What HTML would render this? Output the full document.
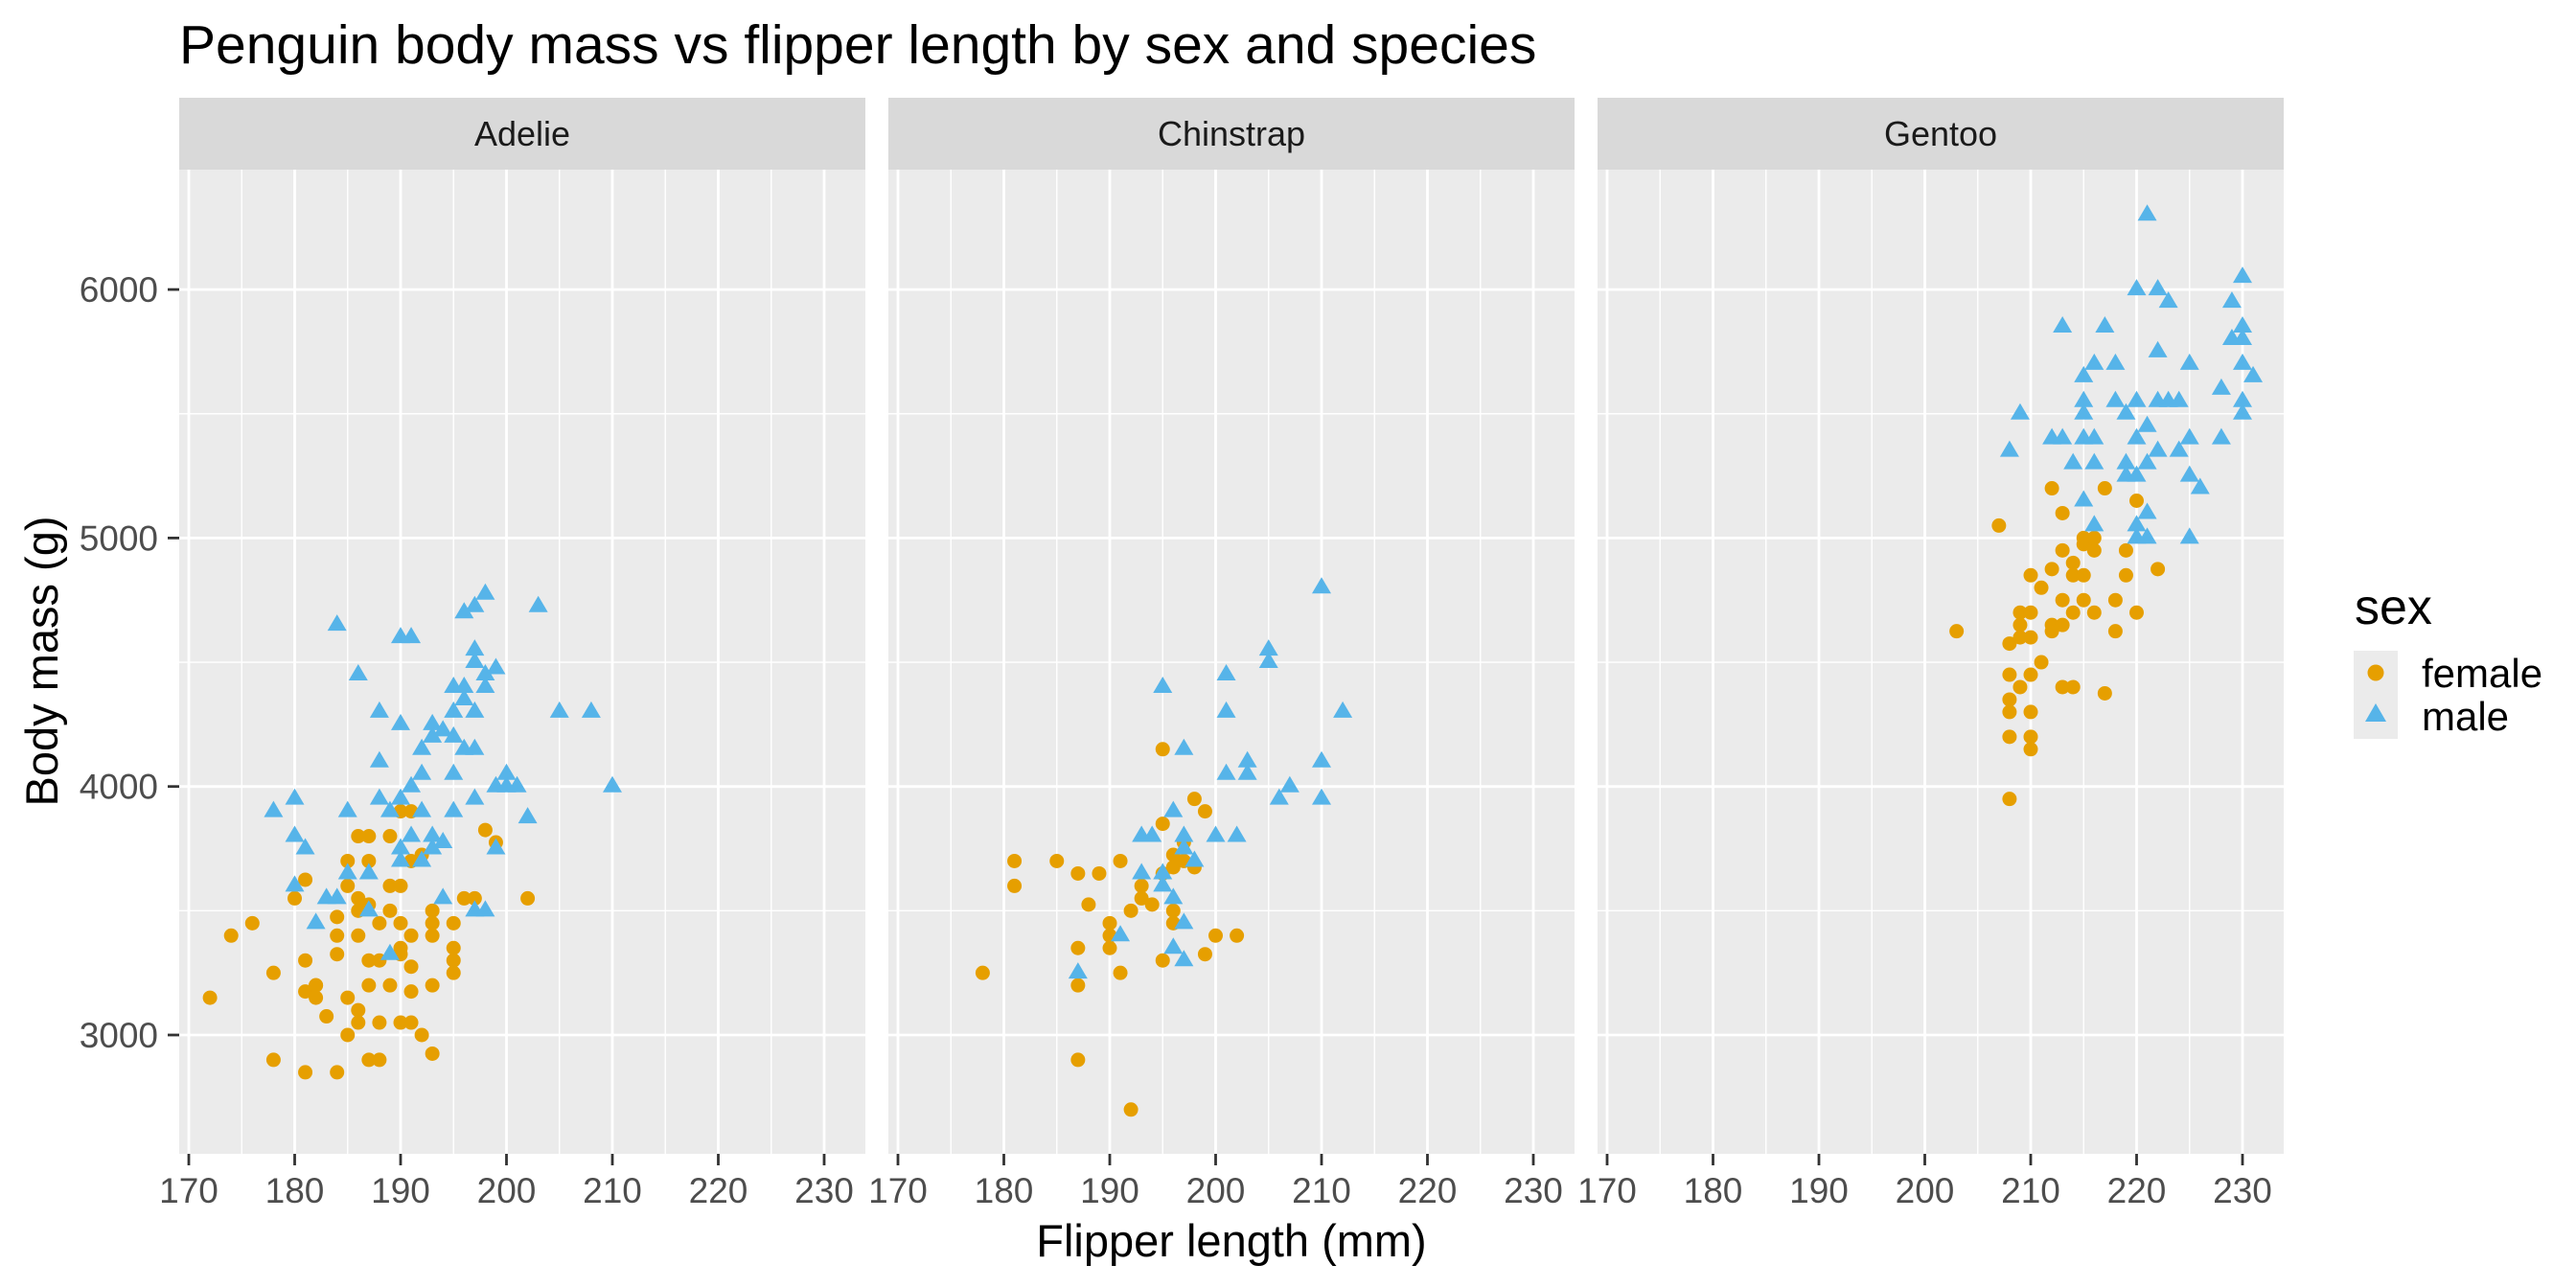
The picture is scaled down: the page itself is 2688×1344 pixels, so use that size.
<!DOCTYPE html>
<html><head><meta charset="utf-8"><style>
html,body{margin:0;padding:0;background:#fff;}
svg{display:block;font-family:"Liberation Sans",Arial,sans-serif;}
</style></head><body>
<svg id="s" width="2688" height="1344" xmlns="http://www.w3.org/2000/svg">
<rect width="2688" height="1344" fill="#fff"/>
<text x="187" y="66" font-size="57" fill="#000">Penguin body mass vs flipper length by sex and species</text>
<text x="1285" y="1311" font-size="47" text-anchor="middle" fill="#000">Flipper length (mm)</text>
<text transform="translate(60,690) rotate(-90)" font-size="47" text-anchor="middle" fill="#000">Body mass (g)</text>
<text x="2457" y="651" font-size="52" fill="#000">sex</text>
<rect x="2456" y="679" width="46" height="92" fill="#EBEBEB"/>
<circle cx="2479" cy="702" r="8.5" fill="#E69F00"/>
<polygon points="2468,753 2490,753 2479,734" fill="#56B4E9"/>
<text x="2527" y="717" font-size="42" fill="#000">female</text>
<text x="2527" y="762" font-size="42" fill="#000">male</text>
<g id="g"></g>
</svg>
<script>
(function(){
const NS="http://www.w3.org/2000/svg";
const g=document.getElementById('g');
function el(t,a,txt){const e=document.createElementNS(NS,t);for(const k in a)e.setAttribute(k,a[k]);if(txt)e.textContent=txt;g.appendChild(e);return e;}
const panels=[187,927,1667], W=716, pTop=177, pBot=1204;
const sx=(p,v)=>p+10+(v-170)*11.05;
const sy=v=>1080-(v-3000)*0.2593;
const names=["Adelie","Chinstrap","Gentoo"];
const data=[
 {f:[[172,3150],[174,3400],[176,3450],[178,3250],[178,2900],[180,3550],[181,3625],[181,3300],[181,3175],[182,3200],[182,3150],[181,2850],[183,3075],[184,3475],[184,3325],[184,2850],[185,3700],[185,3600],[185,3150],[185,3000],[186,3800],[186,3550],[186,3500],[186,3100],[186,3050],[187,3800],[187,3700],[187,3525],[187,3300],[187,3200],[187,2900],[188,3450],[188,3300],[188,3050],[188,2900],[189,3800],[189,3600],[189,3200],[189,3500],[190,3450],[190,3350],[190,3050],[190,3600],[190,3325],[191,3700],[191,3175],[191,3050],[191,3275],[191,3400],[192,3725],[192,3000],[193,3500],[193,3450],[193,3400],[193,3200],[193,2925],[195,3350],[195,3300],[195,3250],[195,3450],[196,3550],[197,3550],[198,3825],[199,3775],[202,3550],[190,3900],[191,3900],[186,3400],[184,3400],[182,3200]],
  m:[[180,3950],[178,3900],[180,3800],[181,3750],[180,3600],[183,3550],[184,3550],[182,3450],[184,4650],[186,4450],[185,3900],[185,3650],[187,3500],[187,3650],[188,4300],[188,4100],[188,3950],[189,3900],[189,3325],[190,4600],[191,4600],[190,4250],[190,3950],[190,3750],[190,3700],[191,4000],[191,3800],[192,4150],[192,4050],[192,3900],[193,4250],[193,4200],[193,3800],[193,3750],[194,4225],[194,3775],[194,3550],[195,4400],[195,4300],[195,4200],[195,4050],[195,3900],[196,4700],[196,4400],[196,4350],[196,4150],[197,4725],[197,4550],[197,4500],[197,4300],[197,4150],[197,3950],[197,3500],[198,4775],[198,4450],[198,4400],[198,3500],[199,4475],[199,4000],[199,3750],[200,4050],[200,4000],[201,4000],[202,3875],[203,4725],[205,4300],[208,4300],[210,4000],[192,3700]]},
 {f:[[178,3250],[181,3700],[181,3600],[185,3700],[187,3650],[187,3350],[187,3200],[187,2900],[188,3525],[189,3650],[190,3450],[190,3400],[190,3350],[191,3700],[191,3250],[192,3500],[192,2700],[193,3600],[193,3550],[194,3525],[195,4150],[195,3850],[195,3650],[195,3300],[196,3725],[196,3675],[196,3500],[197,3775],[197,3700],[198,3950],[198,3675],[199,3900],[199,3325],[200,3400],[202,3400],[196,3450]],
  m:[[187,3250],[191,3400],[193,3800],[193,3650],[194,3800],[195,4400],[195,3650],[195,3600],[196,3900],[197,3800],[197,3750],[197,4150],[197,3450],[197,3300],[198,3700],[200,3800],[201,4450],[201,4300],[201,4050],[202,3800],[203,4100],[203,4050],[205,4550],[205,4500],[206,3950],[207,4000],[210,4800],[210,4100],[210,3950],[212,4300],[196,3550],[196,3350]]},
 {f:[[203,4625],[207,5050],[208,4575],[208,4450],[208,4350],[208,4300],[208,4200],[208,3950],[209,4700],[209,4650],[209,4400],[209,4600],[210,4850],[210,4700],[210,4600],[210,4450],[210,4300],[210,4200],[210,4150],[211,4800],[211,4500],[212,5200],[212,4875],[212,4650],[213,5100],[213,4950],[213,4750],[213,4650],[213,4400],[214,4900],[214,4850],[214,4700],[214,4400],[215,5000],[215,4850],[215,4750],[215,4975],[216,4950],[216,4700],[216,5000],[217,5200],[217,4375],[218,4750],[218,4625],[219,4850],[219,4950],[220,5150],[220,4700],[222,4875],[212,4625]],
  m:[[208,5350],[209,5500],[212,5400],[213,5850],[213,5400],[214,5300],[215,5650],[215,5550],[215,5500],[215,5400],[215,5150],[216,5700],[216,5400],[216,5300],[217,5850],[218,5700],[218,5550],[219,5500],[219,5250],[219,5300],[220,6000],[220,5550],[220,5400],[220,5250],[220,5050],[220,5000],[221,6300],[221,5450],[221,5300],[221,5100],[221,5000],[222,6000],[222,5750],[222,5550],[222,5350],[223,5950],[223,5550],[224,5550],[224,5350],[225,5700],[225,5400],[225,5250],[225,5000],[226,5200],[228,5600],[228,5400],[229,5950],[229,5800],[230,6050],[230,5850],[230,5800],[230,5700],[230,5550],[230,5500],[231,5650],[216,5050]]}
];
panels.forEach((p,i)=>{
  el('rect',{x:p,y:102,width:W,height:75,fill:'#D9D9D9'});
  el('text',{x:p+W/2,y:152,'font-size':36,'text-anchor':'middle',fill:'#1A1A1A'},names[i]);
  el('rect',{x:p,y:pTop,width:W,height:pBot-pTop,fill:'#EBEBEB'});
  for(let v=175;v<=235;v+=10){const x=sx(p,v);if(x<p+W)el('line',{x1:x,x2:x,y1:pTop,y2:pBot,stroke:'#fff','stroke-width':1.4});}
  for(let v=3500;v<=6000;v+=1000){el('line',{x1:p,x2:p+W,y1:sy(v),y2:sy(v),stroke:'#fff','stroke-width':1.4});}
  for(let v=3000;v<=6000;v+=1000){el('line',{x1:p,x2:p+W,y1:sy(v),y2:sy(v),stroke:'#fff','stroke-width':2.8});}
  for(let v=170;v<=230;v+=10){const x=sx(p,v);
    el('line',{x1:x,x2:x,y1:pTop,y2:pBot,stroke:'#fff','stroke-width':2.8});
    el('line',{x1:x,x2:x,y1:pBot,y2:pBot+12,stroke:'#333','stroke-width':2.8});
    el('text',{x:x,y:1255,'font-size':37,'text-anchor':'middle',fill:'#4D4D4D'},String(v));}
  data[i].f.forEach(d=>el('circle',{cx:sx(p,d[0]),cy:sy(d[1]),r:7.5,fill:'#E69F00'}));
  data[i].m.forEach(d=>{const x=sx(p,d[0]),y=sy(d[1]);el('polygon',{points:`${x-10},${y+6} ${x+10},${y+6} ${x},${y-11}`,fill:'#56B4E9'});});
});
for(let v=3000;v<=6000;v+=1000){const y=sy(v);
  el('line',{x1:175,x2:187,y1:y,y2:y,stroke:'#333','stroke-width':2.8});
  el('text',{x:165,y:y+13,'font-size':37,'text-anchor':'end',fill:'#4D4D4D'},String(v));}
})();
</script>
</body></html>
